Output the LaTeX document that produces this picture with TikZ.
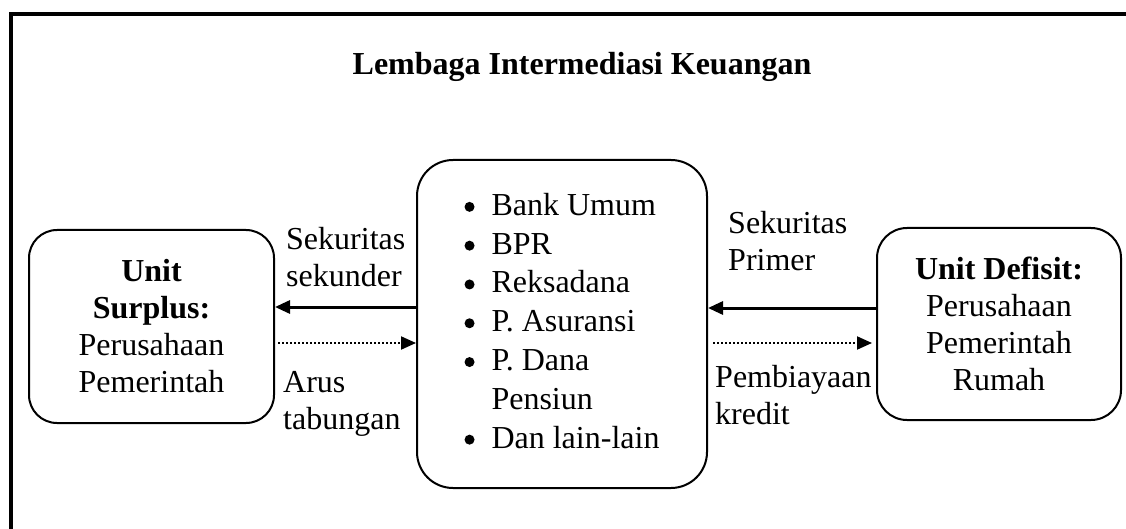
\documentclass[tikz,border=0pt]{standalone}
\usepackage{fontspec}
\setmainfont{Liberation Serif}
\usetikzlibrary{arrows.meta}
\newcommand{\bigdot}{\tikz[baseline=-8.5pt]\fill (0,0) circle (5pt);}
\begin{document}
\begin{tikzpicture}[x=1pt,y=-1pt,
  box/.style={draw,line width=2pt,rounded corners=28pt,inner sep=0pt,align=center,font=\fontsize{32}{37}\selectfont},
  lbl/.style={inner sep=0pt,align=left,anchor=west,font=\fontsize{32}{37}\selectfont},
  solidarr/.style={line width=3pt,-{Triangle[length=15pt,width=13pt]}},
  dotarr/.style={line width=2pt,dash pattern=on 2pt off 2pt,-{Triangle[length=15pt,width=13pt]}}]
\useasboundingbox (0,0) rectangle (1126,529);
\draw[line width=4pt] (1126,14) -- (11,14) -- (11,529);
\node[font=\bfseries\fontsize{32}{37}\selectfont, anchor=base, inner sep=0pt] (title) at (582,75) {Lembaga Intermediasi Keuangan};
\node[box, minimum width=245pt, minimum height=193pt] (surplus) at (151.5,326.5)
  {\textbf{Unit}\\\textbf{Surplus:}\\Perusahaan\\Pemerintah};
\node[box, rounded corners=36pt, minimum width=290pt, minimum height=328pt] (lembaga) at (562,324)
  {\fontsize{32}{38.8}\selectfont\begin{tabular}{@{}c@{\hspace{17pt}}l@{}}
  \bigdot & Bank Umum\\
  \bigdot & BPR\\
  \bigdot & Reksadana\\
  \bigdot & P. Asuransi\\
  \bigdot & P. Dana\\
          & Pensiun\\
  \bigdot & Dan lain-lain
  \end{tabular}};
\node[box, rounded corners=30pt, minimum width=244pt, minimum height=192pt] (defisit) at (999,324)
  {\textbf{Unit Defisit:}\\Perusahaan\\Pemerintah\\Rumah};
\draw[solidarr] (lembaga.west |- 0,307) -- (surplus.east |- 0,307);
\draw[dotarr] ([xshift=3pt]surplus.east |- 0,343) -- (lembaga.west |- 0,343);
\draw[solidarr] (defisit.west |- 0,308) -- (lembaga.east |- 0,308);
\draw[dotarr] ([xshift=5pt]lembaga.east |- 0,343) -- ([xshift=-4pt]defisit.west |- 0,343);
\node[lbl] (seksek) at (286,257) {Sekuritas\\sekunder};
\node[lbl] (arus) at (283,404) {Arus\\tabungan};
\node[lbl] (sekprim) at (728,241.5) {Sekuritas\\Primer};
\node[lbl] (biaya) at (715,395.5) {Pembiayaan\\kredit};
\end{tikzpicture}
\end{document}
